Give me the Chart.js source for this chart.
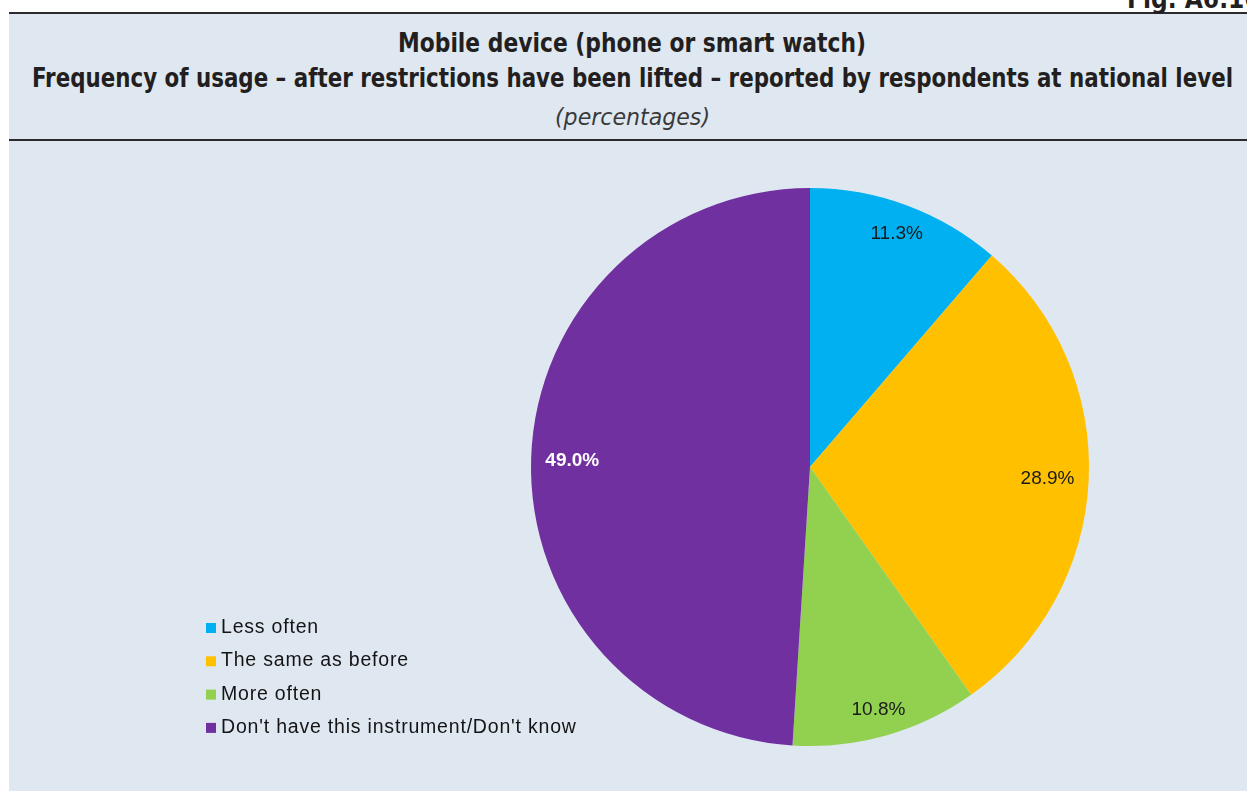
<!DOCTYPE html>
<html>
<head>
<meta charset="utf-8">
<script src="https://cdn.jsdelivr.net/npm/chart.js@4.4.1/dist/chart.umd.min.js"></script>
<style>
    html, body { margin: 0; padding: 0; background: #fff; width: 1247px; height: 791px; overflow: hidden; }
    #panel {
        position: absolute; left: 9px; top: 12px; width: 1238px; height: 779px;
        background: #dfe8f1; border-top: 2px solid #2b2b2b;
    }
    #sep { position: absolute; left: 9px; top: 139px; width: 1238px; height: 2px; background: #2b2b2b; }
    .tline {
        position: absolute; white-space: nowrap; color: #231f20;
        font-family: "Liberation Sans Narrow", "DejaVu Sans Condensed", sans-serif;
        transform-origin: left top;
    }
    .bold { font-weight: bold; font-size: 26px; line-height: 30px; }
    .ital { font-style: italic; font-size: 23px; line-height: 26px; color: #3a3a3a; }
    #fig { position: absolute; left: 1127px; top: -16px; white-space: nowrap; font-weight: bold; font-size: 26px; line-height: 30px;
           font-family: "Liberation Sans Narrow", "DejaVu Sans Condensed", sans-serif; color: #231f20; }
    #chart { position: absolute; left: 0; top: 0; }
</style>
</head>
<body>
<div id="panel"></div>
<div id="sep"></div>
<div id="fig">Fig. A6.16</div>
<span class="tline bold" id="t1" data-x="398" data-y="28" data-w="468">Mobile device (phone or smart watch)</span>
<span class="tline bold" id="t2" data-x="32" data-y="63" data-w="1201">Frequency of usage – after restrictions have been lifted – reported by respondents at national level</span>
<span class="tline ital" id="t3" data-x="555" data-y="104" data-w="155">(percentages)</span>
<canvas id="chart" width="1247" height="791"></canvas>
<script>
// Datos del gráfico
const categorias = ['Less often', 'The same as before', 'More often', "Don't have this instrument/Don't know"];
const valores = [11.3, 28.9, 10.8, 49.0];
const colores = ['#00b0f0', '#ffc000', '#92d050', '#7030a0'];
const coloresEtiqueta = ['#1a1a1a', '#1a1a1a', '#1a1a1a', '#ffffff'];

// Ajustar ancho de los títulos
document.querySelectorAll('.tline').forEach(el => {
    const w = el.getBoundingClientRect().width;
    const target = Number(el.dataset.w);
    el.style.left = el.dataset.x + 'px';
    el.style.top = el.dataset.y + 'px';
    el.style.transform = `scaleX(${target / w})`;
});

// Etiquetas de porcentaje dentro de cada sector
const etiquetasPlugin = {
    id: 'etiquetas',
    afterDatasetsDraw(chart) {
        const ctx = chart.ctx;
        const meta = chart.getDatasetMeta(0);
        ctx.save();
        ctx.textAlign = 'center';
        ctx.textBaseline = 'middle';
        meta.data.forEach((arc, i) => {
            const { x, y, startAngle, endAngle, outerRadius } = arc.getProps(['x', 'y', 'startAngle', 'endAngle', 'outerRadius'], true);
            const mid = (startAngle + endAngle) / 2;
            const texto = valores[i].toFixed(1) + '%';
            ctx.font = (i === 3 ? 'bold ' : '') + '19px "Liberation Sans", Arial, sans-serif';
            const w = ctx.measureText(texto).width;
            const h = 14;
            const cx = Math.cos(mid), cy = Math.sin(mid);
            const half = Math.abs(cx) * w / 2 + Math.abs(cy) * h / 2;
            const d = outerRadius - half - 14;
            ctx.fillStyle = coloresEtiqueta[i];
            ctx.fillText(texto, x + cx * d, y + cy * d + 1);
        });
        ctx.restore();
    }
};

// Leyenda dibujada a la izquierda
const leyendaPlugin = {
    id: 'leyenda',
    afterDraw(chart) {
        const ctx = chart.ctx;
        ctx.save();
        ctx.font = '19.5px "Liberation Sans", Arial, sans-serif';
        ctx.letterSpacing = '0.8px';
        ctx.textBaseline = 'alphabetic';
        chart.data.labels.forEach((label, i) => {
            const y = 633 + i * 33.3;
            ctx.fillStyle = chart.data.datasets[0].backgroundColor[i];
            ctx.fillRect(206, y - 10, 10, 10);
            ctx.fillStyle = '#141414';
            ctx.fillText(label, 221, y);
        });
        ctx.restore();
    }
};

new Chart(document.getElementById('chart'), {
    type: 'pie',
    data: {
        labels: categorias,
        datasets: [{
            data: valores,
            backgroundColor: colores,
            borderWidth: 0
        }]
    },
    options: {
        responsive: false,
        animation: false,
        layout: { padding: { left: 531, right: 158, top: 188, bottom: 45 } },
        plugins: {
            legend: { display: false },
            tooltip: { enabled: false }
        }
    },
    plugins: [etiquetasPlugin, leyendaPlugin]
});
</script>
</body>
</html>
